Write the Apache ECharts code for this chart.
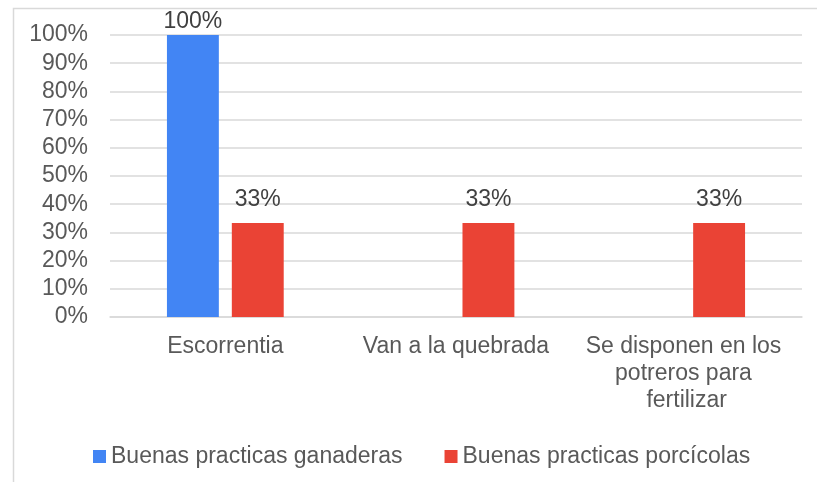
<!DOCTYPE html>
<html>
<head>
<meta charset="utf-8">
<script src="https://cdn.jsdelivr.net/npm/echarts@6/dist/echarts.min.js"></script>
<style>
  html, body { margin: 0; padding: 0; background: #fff; }
  #chart { width: 817px; height: 482px; }
</style>
</head>
<body>
<div id="chart"></div>
<script>
  // datos
  var categorias = ['Escorrentia', 'Van a la quebrada', 'Se disponen en los potreros para fertilizar'];
  var ganaderas = [100, 0, 0];
  var porcicolas = [33.3, 33.3, 33.3];
  var nombres = ['Buenas practicas ganaderas', 'Buenas practicas porcícolas'];
  var ticksY = [0, 10, 20, 30, 40, 50, 60, 70, 80, 90, 100];

  var fuente = '"Liberation Sans", Arial, sans-serif';
  var gris = '#595959';

  var myChart = echarts.init(document.getElementById('chart'));
  var option = {
    animation: false,
    textStyle: { fontFamily: fuente },
    graphic: [{
      type: 'rect',
      left: 11, top: 6,
      shape: { width: 900, height: 600 },
      style: { fill: 'none', stroke: '#d9d9d9', lineWidth: 1.5 }
    }],
    grid: { left: 110, right: 15, top: 35, bottom: 165 },
    legend: {
      left: 88, top: 440,
      icon: 'rect', itemWidth: 13, itemHeight: 13, itemGap: 42,
      textStyle: { fontSize: 23, color: gris, fontFamily: fuente },
      data: nombres
    },
    xAxis: {
      type: 'category',
      data: categorias,
      axisTick: { show: false },
      axisLine: { lineStyle: { color: '#d9d9d9', width: 1.5 } },
      axisLabel: {
        fontSize: 23, color: gris, margin: 16, lineHeight: 27, fontFamily: fuente,
        width: 210, overflow: 'break', interval: 0
      }
    },
    yAxis: {
      type: 'value',
      min: ticksY[0], max: ticksY[ticksY.length - 1], interval: 10,
      axisLine: { show: false },
      axisTick: { show: false },
      splitLine: { lineStyle: { color: '#d9d9d9', width: 1.5 } },
      axisLabel: {
        fontSize: 23, color: gris, margin: 22, fontFamily: fuente,
        padding: [5, 0, 0, 0], formatter: '{value}%'
      }
    },
    series: [
      {
        name: nombres[0], type: 'bar', data: ganaderas,
        itemStyle: { color: '#4285F4' },
        barWidth: '22.5%', barGap: '25%',
        label: {
          show: true, position: 'top', distance: 2,
          fontSize: 23, color: '#404040', fontFamily: fuente,
          formatter: function (p) { return p.value > 0 ? Math.round(p.value) + '%' : ''; }
        }
      },
      {
        name: nombres[1], type: 'bar', data: porcicolas,
        itemStyle: { color: '#EA4335' },
        barWidth: '22.5%', barGap: '25%',
        label: {
          show: true, position: 'top', distance: 12,
          fontSize: 23, color: '#404040', fontFamily: fuente,
          formatter: function (p) { return Math.round(p.value) + '%'; }
        }
      }
    ]
  };
  myChart.setOption(option);
</script>
</body>
</html>
